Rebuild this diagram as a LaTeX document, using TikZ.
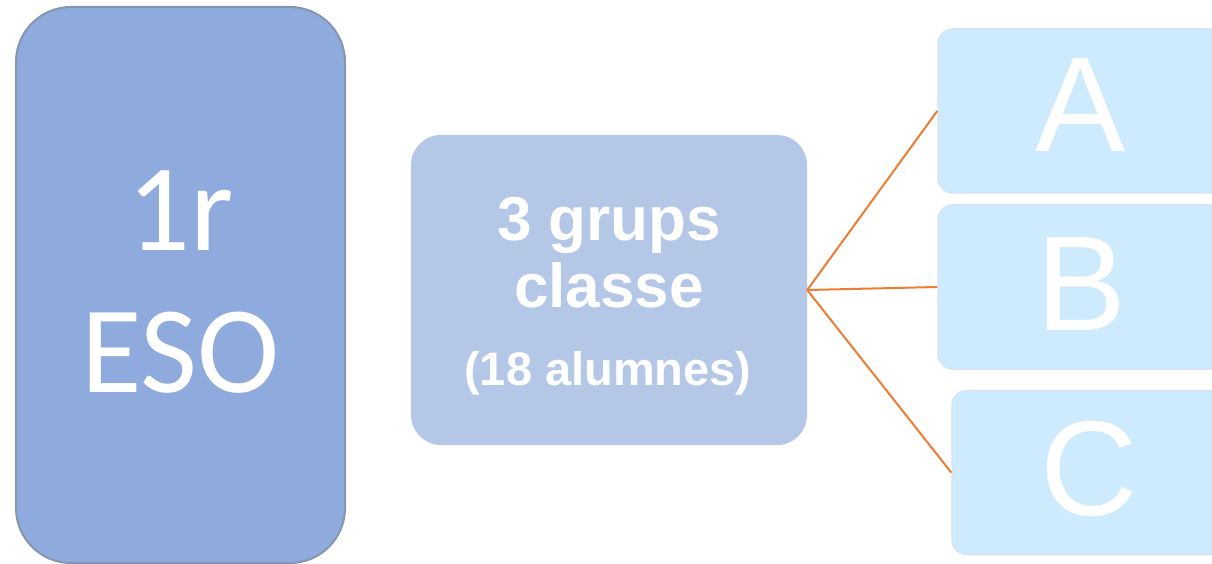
\documentclass[tikz,border=0pt]{standalone}
\usepackage{fontspec}
\setmainfont{Liberation Sans}
\newfontfamily\calib{Carlito}
\definecolor{esofill}{HTML}{8FAADC}
\definecolor{esoline}{HTML}{8497B0}
\definecolor{midfill}{HTML}{B4C7E7}
\definecolor{grpfill}{HTML}{CDEBFD}
\definecolor{grpline}{HTML}{D5E3F4}
\definecolor{link}{HTML}{ED7D31}
\begin{document}
\begin{tikzpicture}[x=1pt,y=-1pt,
  esobox/.style={draw=esoline, line width=2pt, fill=esofill, rounded corners=55pt, inner sep=0pt, minimum width=329pt, minimum height=556pt},
  midbox/.style={fill=midfill, rounded corners=30pt, inner sep=0pt, minimum width=396pt, minimum height=310pt},
  grpbox/.style={draw=grpline, line width=1.5pt, fill=grpfill, rounded corners=15pt, inner sep=0pt, minimum width=286pt, minimum height=164pt},
  wtext/.style={text=white, inner sep=0pt, anchor=base},
  link/.style={draw=link, line width=2pt}]
\clip (0,0) rectangle (1212,564);
\fill[white] (0,0) rectangle (1212,564);
% boxes
\node[esobox] (eso) at (180.5,285) {};
\node[midbox] (mid) at (609,290) {};
\node[grpbox] (ga) at (1081,111) {};
\node[grpbox] (gb) at (1081,287) {};
\node[grpbox] (gc) at (1095,472.5) {};
% texts
\node[wtext, font=\calib\fontsize{124}{142}\selectfont] (t1r) at (180.5,250) {1r};
\node[wtext, font=\calib\fontsize{124}{142}\selectfont] (teso) at (180.5,392) {ESO};
\node[wtext, font=\bfseries\fontsize{62}{67}\selectfont] (tgrups) at (609,240) {3 grups};
\node[wtext, font=\bfseries\fontsize{62}{67}\selectfont] (tclasse) at (609,307) {classe};
\node[wtext, font=\bfseries\fontsize{47}{54}\selectfont] (talum) at (608,385) {(18 alumnes)};
\node[wtext, font=\fontsize{135}{150}\selectfont] (ta) at (1081,152) {A};
\node[wtext, font=\fontsize{135}{150}\selectfont] (tb) at (1082,330) {B};
\node[wtext, font=\fontsize{135}{150}\selectfont] (tc) at (1089,515) {C};
% connectors
\coordinate (hub) at (mid.east);
\draw[link] (hub) -- (ga.west);
\draw[link] (hub) -- (gb.west);
\draw[link] (hub) -- (gc.west);
\end{tikzpicture}
\end{document}
